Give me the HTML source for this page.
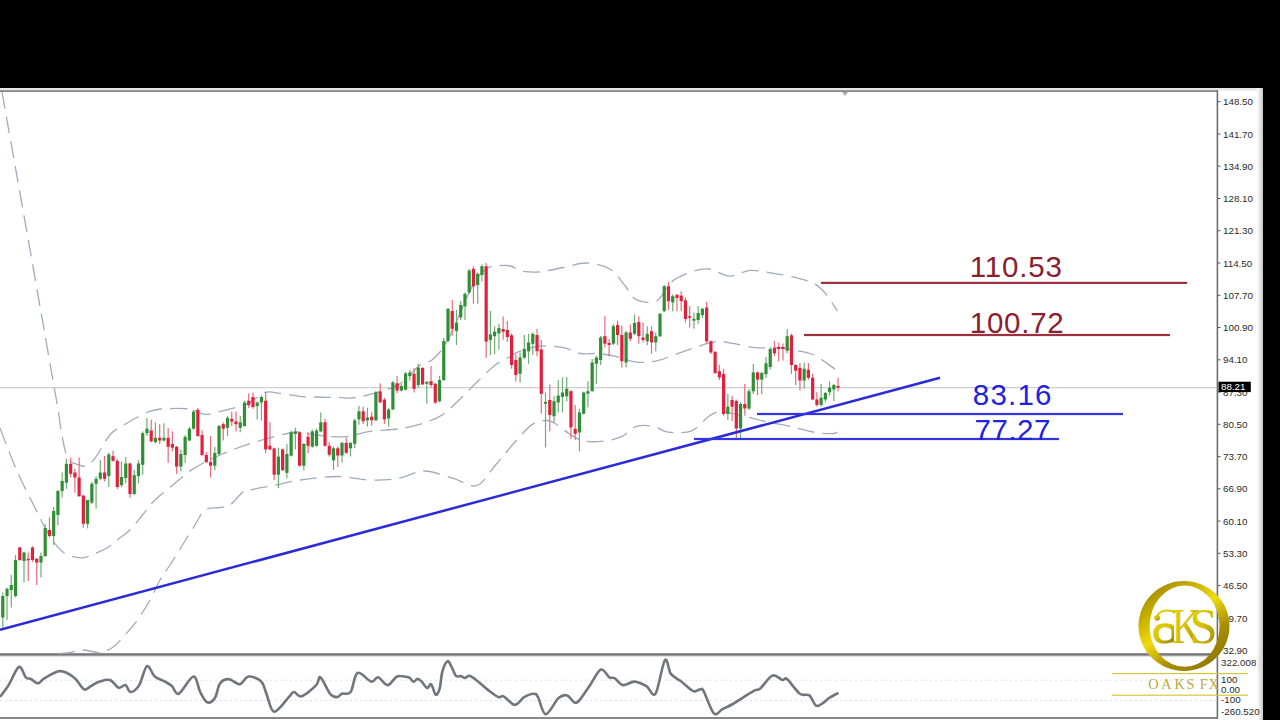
<!DOCTYPE html><html><head><meta charset="utf-8"><title>Chart</title><style>
html,body{margin:0;padding:0;background:#000;width:1280px;height:720px;overflow:hidden}
svg{display:block;position:absolute;left:0;top:0}
#wrap{position:absolute;left:0;top:0;width:1280px;height:720px}
text{font-family:"Liberation Sans",sans-serif}
</style></head><body><div id="wrap">
<svg width="1280" height="720" viewBox="0 0 1280 720">
<defs>
<linearGradient id="edge" x1="0" x2="1" y1="0" y2="0"><stop offset="0" stop-color="#fff"/><stop offset="1" stop-color="#c8c8c8"/></linearGradient>
<linearGradient id="gold" x1="0.15" y1="0" x2="0.85" y2="1"><stop offset="0" stop-color="#9a8200"/><stop offset="0.3" stop-color="#d4bc00"/><stop offset="0.45" stop-color="#efdc10"/><stop offset="0.7" stop-color="#a88e00"/><stop offset="1" stop-color="#8a7400"/></linearGradient>
<linearGradient id="goldL" x1="0" y1="0" x2="1" y2="0"><stop offset="0" stop-color="#c8b000"/><stop offset="0.5" stop-color="#e8d400" stop-opacity="0"/></linearGradient>
<linearGradient id="gold2" x1="0" y1="0" x2="1" y2="1"><stop offset="0" stop-color="#e6d200"/><stop offset="0.45" stop-color="#d8c400"/><stop offset="1" stop-color="#8e8010"/></linearGradient>
</defs>
<rect x="0" y="88" width="1263" height="632" fill="#ffffff"/>
<rect x="0" y="88" width="1263" height="2.5" fill="#e6e6e6"/>
<rect x="1257" y="88" width="6" height="632" fill="url(#edge)"/>
<rect x="0" y="90.3" width="1218" height="1.6" fill="#7a7a7a"/>
<rect x="1216.6" y="90.3" width="1.6" height="628" fill="#6e6e6e"/>
<rect x="0" y="653.2" width="1218" height="2.6" fill="#767676"/>
<rect x="0" y="655.8" width="1218" height="1" fill="#d8d8d8"/>
<rect x="0" y="717.2" width="1218" height="1.6" fill="#6a6a6a"/>
<rect x="1218" y="101.2" width="2.5" height="1" fill="#555"/>
<text x="1223" y="105.3" font-size="9.8" fill="#2a2a2a">148.50</text>
<rect x="1218" y="133.5" width="2.5" height="1" fill="#555"/>
<text x="1223" y="137.6" font-size="9.8" fill="#2a2a2a">141.70</text>
<rect x="1218" y="165.7" width="2.5" height="1" fill="#555"/>
<text x="1223" y="169.8" font-size="9.8" fill="#2a2a2a">134.90</text>
<rect x="1218" y="198.0" width="2.5" height="1" fill="#555"/>
<text x="1223" y="202.1" font-size="9.8" fill="#2a2a2a">128.10</text>
<rect x="1218" y="230.2" width="2.5" height="1" fill="#555"/>
<text x="1223" y="234.3" font-size="9.8" fill="#2a2a2a">121.30</text>
<rect x="1218" y="262.5" width="2.5" height="1" fill="#555"/>
<text x="1223" y="266.6" font-size="9.8" fill="#2a2a2a">114.50</text>
<rect x="1218" y="294.8" width="2.5" height="1" fill="#555"/>
<text x="1223" y="298.9" font-size="9.8" fill="#2a2a2a">107.70</text>
<rect x="1218" y="327.0" width="2.5" height="1" fill="#555"/>
<text x="1223" y="331.1" font-size="9.8" fill="#2a2a2a">100.90</text>
<rect x="1218" y="359.3" width="2.5" height="1" fill="#555"/>
<text x="1223" y="363.4" font-size="9.8" fill="#2a2a2a">94.10</text>
<rect x="1218" y="391.5" width="2.5" height="1" fill="#555"/>
<text x="1223" y="395.6" font-size="9.8" fill="#2a2a2a">87.30</text>
<rect x="1218" y="423.8" width="2.5" height="1" fill="#555"/>
<text x="1223" y="427.9" font-size="9.8" fill="#2a2a2a">80.50</text>
<rect x="1218" y="456.1" width="2.5" height="1" fill="#555"/>
<text x="1223" y="460.2" font-size="9.8" fill="#2a2a2a">73.70</text>
<rect x="1218" y="488.3" width="2.5" height="1" fill="#555"/>
<text x="1223" y="492.4" font-size="9.8" fill="#2a2a2a">66.90</text>
<rect x="1218" y="520.6" width="2.5" height="1" fill="#555"/>
<text x="1223" y="524.7" font-size="9.8" fill="#2a2a2a">60.10</text>
<rect x="1218" y="552.8" width="2.5" height="1" fill="#555"/>
<text x="1223" y="556.9" font-size="9.8" fill="#2a2a2a">53.30</text>
<rect x="1218" y="585.1" width="2.5" height="1" fill="#555"/>
<text x="1223" y="589.2" font-size="9.8" fill="#2a2a2a">46.50</text>
<rect x="1218" y="617.4" width="2.5" height="1" fill="#555"/>
<text x="1223" y="621.5" font-size="9.8" fill="#2a2a2a">39.70</text>
<rect x="1218" y="649.6" width="2.5" height="1" fill="#555"/>
<text x="1223" y="653.7" font-size="9.8" fill="#2a2a2a">32.90</text>
<rect x="0" y="387.2" width="1217" height="1" fill="#c4c4c4"/>
<rect x="1218.5" y="381.7" width="32.3" height="10.4" fill="#000"/>
<text x="1221" y="390.3" font-size="9.8" fill="#fff">88.21</text>
<text x="1221" y="665.8" font-size="9.8" fill="#2a2a2a">322.0088</text>
<text x="1221" y="683.0" font-size="9.8" fill="#2a2a2a">100</text>
<text x="1221" y="693.0" font-size="9.8" fill="#2a2a2a">0.00</text>
<text x="1221" y="703.0" font-size="9.8" fill="#2a2a2a">-100</text>
<text x="1221" y="714.7" font-size="9.8" fill="#2a2a2a">-260.520</text>
<rect x="1256" y="655" width="7" height="15" fill="url(#edge)"/>
<path d="M0,680.2 H1217" stroke="#dde0e6" stroke-width="1" stroke-dasharray="2,3"/>
<path d="M0,700.5 H1217" stroke="#dde0e6" stroke-width="1" stroke-dasharray="2,3"/>
<path d="M2.0,92.0 C6.5,117.3 20.5,196.0 29.0,244.0 C37.5,292.0 48.1,352.7 52.9,380.0 C57.7,407.3 56.3,398.5 57.8,407.8 C59.3,417.1 60.4,427.3 62.0,435.6 C63.6,443.9 65.4,453.2 67.5,457.8 C69.6,462.4 71.4,461.9 74.4,463.3 C77.4,464.7 82.1,467.0 85.6,466.1 C89.1,465.2 91.1,463.1 95.3,457.8 C99.5,452.5 105.3,440.0 110.6,434.2 C115.9,428.4 121.0,426.7 127.2,423.0 C133.4,419.3 142.4,414.3 148.0,412.0 C153.6,409.7 154.0,409.5 161.0,409.0 C168.0,408.5 182.8,408.1 190.0,409.0 C197.2,409.9 199.0,414.1 204.4,414.4 C209.8,414.7 215.3,412.6 222.5,410.8 C229.7,409.0 240.6,406.7 247.7,403.6 C254.8,400.6 259.6,394.2 265.0,392.5 C270.4,390.8 273.9,392.7 280.0,393.4 C286.1,394.1 295.6,396.0 301.6,396.6 C307.6,397.2 309.3,396.8 316.0,397.0 C322.7,397.2 336.0,397.4 342.0,397.6 C348.0,397.8 346.9,398.7 352.2,398.0 C357.5,397.3 366.1,395.7 373.9,393.4 C381.7,391.1 391.4,389.0 399.0,384.4 C406.6,379.8 414.1,369.7 419.6,365.6 C425.1,361.5 427.8,363.4 432.0,360.0 C436.2,356.6 440.7,352.0 445.0,345.0 C449.3,338.0 453.9,326.9 458.0,318.0 C462.1,309.1 466.3,298.5 469.6,291.7 C472.9,284.9 474.9,281.0 478.0,277.0 C481.1,273.0 484.8,269.6 488.3,267.7 C491.8,265.8 495.0,265.9 498.8,265.6 C502.5,265.3 507.5,265.1 511.0,266.0 C514.5,266.9 515.2,269.8 520.0,270.8 C524.8,271.8 532.8,272.4 540.0,271.8 C547.2,271.2 555.5,269.0 563.3,267.5 C571.1,266.0 578.8,262.8 586.6,263.0 C594.4,263.2 603.7,265.3 610.0,269.0 C616.3,272.7 620.1,279.9 624.5,285.0 C628.9,290.1 630.9,296.9 636.2,299.6 C641.6,302.3 650.8,303.9 656.6,301.0 C662.4,298.1 665.4,286.9 671.2,282.0 C677.0,277.1 685.3,274.1 691.6,271.9 C697.9,269.7 702.7,268.3 709.0,269.0 C715.3,269.7 722.7,276.0 729.5,276.2 C736.3,276.4 742.7,270.9 750.0,270.4 C757.3,269.9 765.4,272.1 773.2,273.3 C781.0,274.5 789.8,276.0 796.6,277.7 C803.4,279.4 809.1,280.8 814.0,283.5 C818.9,286.2 821.8,289.1 825.7,293.7 C829.6,298.3 835.5,308.3 837.4,311.2" fill="none" stroke="#a0acbc" stroke-width="1.3" stroke-dasharray="17,8"/>
<path d="M0.0,428.0 C2.2,433.7 9.2,452.4 13.3,462.2 C17.4,472.0 20.7,478.9 24.4,486.7 C28.1,494.5 32.3,502.2 35.6,508.9 C38.9,515.6 41.1,520.8 44.4,526.7 C47.7,532.6 51.9,539.8 55.6,544.4 C59.3,549.0 62.3,552.2 66.7,554.4 C71.1,556.6 77.4,558.0 82.2,557.8 C87.0,557.6 91.1,555.1 95.6,553.3 C100.0,551.4 104.8,549.3 108.9,546.7 C113.0,544.1 116.5,540.6 120.0,537.8 C123.5,535.0 126.2,533.8 130.0,530.0 C133.8,526.2 138.3,520.0 142.5,515.0 C146.7,510.0 150.4,504.6 155.0,500.0 C159.6,495.4 163.6,492.7 170.0,487.5 C176.4,482.3 184.8,474.2 193.6,468.6 C202.3,463.0 212.9,458.2 222.5,454.0 C232.1,449.8 241.1,446.6 251.3,443.3 C261.5,440.0 275.7,436.2 283.8,434.3 C291.9,432.4 294.6,431.9 300.0,432.0 C305.4,432.1 308.5,434.2 316.0,435.0 C323.5,435.8 336.0,437.4 345.0,436.8 C354.0,436.2 359.8,432.8 370.0,431.3 C380.2,429.8 394.9,430.1 406.4,427.7 C417.9,425.3 430.0,421.5 438.8,416.9 C447.6,412.3 452.5,406.0 459.0,400.0 C465.5,394.0 471.7,387.0 478.0,381.0 C484.3,375.0 491.4,367.9 496.6,364.0 C501.8,360.1 505.4,359.3 509.0,357.3 C512.6,355.3 513.1,353.8 518.3,351.9 C523.5,350.0 532.5,346.9 540.0,346.2 C547.5,345.5 556.5,346.5 563.3,347.7 C570.1,348.9 575.0,352.5 580.8,353.5 C586.6,354.5 592.5,353.0 598.3,353.5 C604.1,354.0 609.5,354.9 615.8,356.4 C622.1,357.8 629.4,361.5 636.2,362.2 C643.0,362.9 650.3,362.0 656.6,360.8 C662.9,359.6 667.8,357.2 674.1,355.0 C680.4,352.8 687.7,349.9 694.5,347.7 C701.3,345.5 708.7,342.5 715.0,341.8 C721.3,341.1 725.6,342.3 732.4,343.3 C739.2,344.3 747.9,347.0 755.7,347.7 C763.5,348.4 772.2,347.2 779.0,347.7 C785.8,348.2 790.8,349.4 796.6,350.6 C802.4,351.8 808.2,352.3 814.0,355.0 C819.8,357.7 827.6,363.9 831.5,366.6 C835.4,369.3 836.4,370.3 837.4,371.0" fill="none" stroke="#a0acbc" stroke-width="1.3" stroke-dasharray="17,8"/>
<path d="M58.0,653.5 C60.0,653.3 65.9,653.1 70.0,652.5 C74.1,651.9 77.5,650.0 82.5,650.0 C87.5,650.0 95.0,652.9 100.0,652.5 C105.0,652.1 108.3,650.4 112.5,647.5 C116.7,644.6 120.8,639.6 125.0,635.0 C129.2,630.4 133.3,625.8 137.5,620.0 C141.7,614.2 146.2,606.7 150.0,600.0 C153.8,593.3 156.7,585.8 160.0,580.0 C163.3,574.2 166.2,570.8 170.0,565.0 C173.8,559.2 178.3,551.7 182.5,545.0 C186.7,538.3 191.2,530.8 195.0,525.0 C198.8,519.2 200.8,512.9 205.0,510.0 C209.2,507.1 215.8,508.3 220.0,507.5 C224.2,506.7 226.2,507.5 230.0,505.0 C233.8,502.5 239.2,495.0 242.5,492.5 C245.8,490.0 244.3,491.3 250.0,490.0 C255.7,488.7 268.3,486.5 276.6,484.8 C284.9,483.1 289.8,481.4 300.0,480.0 C310.2,478.6 326.1,476.5 337.8,476.5 C349.5,476.5 359.8,479.7 370.0,480.0 C380.2,480.3 389.9,479.8 399.0,478.3 C408.1,476.8 415.3,471.0 424.4,471.0 C433.4,471.0 444.6,475.9 453.3,478.3 C462.0,480.7 469.5,487.9 476.7,485.5 C483.9,483.1 490.3,471.0 496.6,463.8 C502.9,456.6 508.7,448.8 514.7,442.2 C520.7,435.6 527.3,427.7 532.7,424.1 C538.1,420.5 543.0,420.4 547.1,420.5 C551.2,420.6 553.8,422.8 557.5,425.0 C561.2,427.2 564.8,431.0 569.2,433.7 C573.6,436.4 577.9,439.8 583.7,441.0 C589.5,442.2 597.8,441.7 604.1,441.0 C610.4,440.3 616.2,439.0 621.6,436.6 C627.0,434.2 630.9,428.1 636.2,426.4 C641.6,424.7 648.4,425.4 653.7,426.4 C659.1,427.4 662.0,431.5 668.3,432.2 C674.6,432.9 684.8,433.5 691.6,430.8 C698.4,428.1 704.1,419.4 709.0,416.2 C713.9,413.0 714.9,411.8 720.8,411.8 C726.6,411.8 736.3,414.5 744.1,416.2 C751.9,417.9 759.6,420.3 767.4,422.0 C775.2,423.7 782.9,424.7 790.7,426.4 C798.5,428.1 807.2,431.0 814.0,432.2 C820.8,433.4 827.6,433.7 831.5,433.7 C835.4,433.7 836.4,432.4 837.4,432.2" fill="none" stroke="#a0acbc" stroke-width="1.3" stroke-dasharray="17,8"/>
<rect x="2.20" y="592.5" width="1.2" height="35.0" fill="#6fae72"/>
<rect x="1.20" y="596.0" width="3.2" height="21.5" fill="#2f8f34"/>
<rect x="6.44" y="587.5" width="1.2" height="32.5" fill="#6fae72"/>
<rect x="5.44" y="588.8" width="3.2" height="7.2" fill="#2f8f34"/>
<rect x="10.68" y="575.0" width="1.2" height="32.5" fill="#6fae72"/>
<rect x="9.68" y="585.0" width="3.2" height="5.0" fill="#2f8f34"/>
<rect x="14.92" y="555.0" width="1.2" height="42.5" fill="#6fae72"/>
<rect x="13.92" y="560.0" width="3.2" height="36.0" fill="#2f8f34"/>
<rect x="19.16" y="546.5" width="1.2" height="14.5" fill="#ea6a7c"/>
<rect x="18.16" y="547.5" width="3.2" height="12.5" fill="#e0203c"/>
<rect x="23.40" y="552.0" width="1.2" height="30.5" fill="#6fae72"/>
<rect x="22.40" y="552.5" width="3.2" height="8.5" fill="#2f8f34"/>
<rect x="27.64" y="552.5" width="1.2" height="28.5" fill="#ea6a7c"/>
<rect x="26.64" y="558.8" width="3.2" height="1.5" fill="#e0203c"/>
<rect x="31.88" y="546.0" width="1.2" height="16.0" fill="#ea6a7c"/>
<rect x="30.88" y="547.5" width="3.2" height="12.5" fill="#e0203c"/>
<rect x="36.12" y="558.0" width="1.2" height="27.0" fill="#ea6a7c"/>
<rect x="35.12" y="558.8" width="3.2" height="3.8" fill="#e0203c"/>
<rect x="40.36" y="552.5" width="1.2" height="25.0" fill="#6fae72"/>
<rect x="39.36" y="556.0" width="3.2" height="6.5" fill="#2f8f34"/>
<rect x="44.60" y="524.0" width="1.2" height="33.0" fill="#6fae72"/>
<rect x="43.60" y="528.0" width="3.2" height="28.0" fill="#2f8f34"/>
<rect x="48.84" y="517.5" width="1.2" height="20.0" fill="#ea6a7c"/>
<rect x="47.84" y="530.0" width="3.2" height="6.0" fill="#e0203c"/>
<rect x="53.08" y="507.0" width="1.2" height="38.0" fill="#6fae72"/>
<rect x="52.08" y="511.0" width="3.2" height="25.0" fill="#2f8f34"/>
<rect x="57.32" y="490.0" width="1.2" height="35.0" fill="#6fae72"/>
<rect x="56.32" y="491.0" width="3.2" height="24.0" fill="#2f8f34"/>
<rect x="61.56" y="472.5" width="1.2" height="25.0" fill="#6fae72"/>
<rect x="60.56" y="481.0" width="3.2" height="10.0" fill="#2f8f34"/>
<rect x="65.80" y="458.8" width="1.2" height="30.0" fill="#6fae72"/>
<rect x="64.80" y="463.8" width="3.2" height="18.8" fill="#2f8f34"/>
<rect x="70.04" y="457.5" width="1.2" height="20.0" fill="#ea6a7c"/>
<rect x="69.04" y="463.8" width="3.2" height="10.0" fill="#e0203c"/>
<rect x="74.28" y="468.8" width="1.2" height="23.8" fill="#ea6a7c"/>
<rect x="73.28" y="472.5" width="3.2" height="5.0" fill="#e0203c"/>
<rect x="78.52" y="457.5" width="1.2" height="39.0" fill="#ea6a7c"/>
<rect x="77.52" y="477.5" width="3.2" height="18.8" fill="#e0203c"/>
<rect x="82.76" y="495.0" width="1.2" height="32.5" fill="#ea6a7c"/>
<rect x="81.76" y="495.6" width="3.2" height="28.1" fill="#e0203c"/>
<rect x="87.00" y="500.0" width="1.2" height="28.4" fill="#6fae72"/>
<rect x="86.00" y="500.0" width="3.2" height="23.8" fill="#2f8f34"/>
<rect x="91.24" y="482.0" width="1.2" height="22.0" fill="#6fae72"/>
<rect x="90.24" y="483.8" width="3.2" height="18.8" fill="#2f8f34"/>
<rect x="95.48" y="476.2" width="1.2" height="32.5" fill="#6fae72"/>
<rect x="94.48" y="478.8" width="3.2" height="5.0" fill="#2f8f34"/>
<rect x="99.72" y="460.0" width="1.2" height="20.0" fill="#6fae72"/>
<rect x="98.72" y="472.5" width="3.2" height="6.2" fill="#2f8f34"/>
<rect x="103.96" y="456.0" width="1.2" height="25.5" fill="#ea6a7c"/>
<rect x="102.96" y="472.5" width="3.2" height="6.3" fill="#e0203c"/>
<rect x="108.20" y="452.6" width="1.2" height="34.4" fill="#6fae72"/>
<rect x="107.20" y="454.4" width="3.2" height="21.6" fill="#2f8f34"/>
<rect x="112.44" y="450.8" width="1.2" height="10.9" fill="#ea6a7c"/>
<rect x="111.44" y="456.2" width="3.2" height="4.6" fill="#e0203c"/>
<rect x="116.68" y="459.0" width="1.2" height="30.0" fill="#ea6a7c"/>
<rect x="115.68" y="460.8" width="3.2" height="26.2" fill="#e0203c"/>
<rect x="120.92" y="461.7" width="1.2" height="25.3" fill="#6fae72"/>
<rect x="119.92" y="477.0" width="3.2" height="8.1" fill="#2f8f34"/>
<rect x="125.16" y="457.0" width="1.2" height="26.3" fill="#6fae72"/>
<rect x="124.16" y="463.5" width="3.2" height="14.5" fill="#2f8f34"/>
<rect x="129.40" y="462.6" width="1.2" height="35.2" fill="#ea6a7c"/>
<rect x="128.40" y="463.5" width="3.2" height="30.5" fill="#e0203c"/>
<rect x="133.64" y="470.0" width="1.2" height="25.0" fill="#6fae72"/>
<rect x="132.64" y="475.2" width="3.2" height="18.8" fill="#2f8f34"/>
<rect x="137.88" y="460.0" width="1.2" height="23.3" fill="#6fae72"/>
<rect x="136.88" y="463.5" width="3.2" height="12.5" fill="#2f8f34"/>
<rect x="142.12" y="431.4" width="1.2" height="43.4" fill="#6fae72"/>
<rect x="141.12" y="433.2" width="3.2" height="31.6" fill="#2f8f34"/>
<rect x="146.36" y="418.0" width="1.2" height="18.0" fill="#6fae72"/>
<rect x="145.36" y="428.7" width="3.2" height="4.5" fill="#2f8f34"/>
<rect x="150.60" y="419.7" width="1.2" height="22.6" fill="#ea6a7c"/>
<rect x="149.60" y="430.5" width="3.2" height="10.9" fill="#e0203c"/>
<rect x="154.84" y="422.4" width="1.2" height="20.8" fill="#6fae72"/>
<rect x="153.84" y="437.8" width="3.2" height="4.5" fill="#2f8f34"/>
<rect x="159.08" y="424.2" width="1.2" height="19.8" fill="#ea6a7c"/>
<rect x="158.08" y="437.8" width="3.2" height="2.7" fill="#e0203c"/>
<rect x="163.32" y="423.3" width="1.2" height="18.1" fill="#6fae72"/>
<rect x="162.32" y="437.8" width="3.2" height="2.7" fill="#2f8f34"/>
<rect x="167.56" y="427.8" width="1.2" height="35.2" fill="#ea6a7c"/>
<rect x="166.56" y="437.8" width="3.2" height="9.0" fill="#e0203c"/>
<rect x="171.80" y="431.4" width="1.2" height="19.9" fill="#ea6a7c"/>
<rect x="170.80" y="444.0" width="3.2" height="3.7" fill="#e0203c"/>
<rect x="176.04" y="446.0" width="1.2" height="27.9" fill="#ea6a7c"/>
<rect x="175.04" y="446.8" width="3.2" height="19.8" fill="#e0203c"/>
<rect x="180.28" y="449.5" width="1.2" height="21.7" fill="#6fae72"/>
<rect x="179.28" y="454.0" width="3.2" height="12.6" fill="#2f8f34"/>
<rect x="184.52" y="435.0" width="1.2" height="28.0" fill="#6fae72"/>
<rect x="183.52" y="436.9" width="3.2" height="18.1" fill="#2f8f34"/>
<rect x="188.76" y="427.0" width="1.2" height="14.0" fill="#6fae72"/>
<rect x="187.76" y="428.7" width="3.2" height="11.8" fill="#2f8f34"/>
<rect x="193.00" y="409.8" width="1.2" height="19.8" fill="#6fae72"/>
<rect x="192.00" y="411.6" width="3.2" height="17.1" fill="#2f8f34"/>
<rect x="197.24" y="408.0" width="1.2" height="28.9" fill="#ea6a7c"/>
<rect x="196.24" y="409.8" width="3.2" height="26.2" fill="#e0203c"/>
<rect x="201.48" y="430.5" width="1.2" height="25.3" fill="#ea6a7c"/>
<rect x="200.48" y="435.0" width="3.2" height="20.0" fill="#e0203c"/>
<rect x="205.72" y="452.0" width="1.2" height="11.0" fill="#ea6a7c"/>
<rect x="204.72" y="455.0" width="3.2" height="7.1" fill="#e0203c"/>
<rect x="209.96" y="436.0" width="1.2" height="41.5" fill="#ea6a7c"/>
<rect x="208.96" y="462.1" width="3.2" height="3.6" fill="#e0203c"/>
<rect x="214.20" y="446.8" width="1.2" height="23.5" fill="#6fae72"/>
<rect x="213.20" y="453.0" width="3.2" height="12.7" fill="#2f8f34"/>
<rect x="218.44" y="425.0" width="1.2" height="31.0" fill="#6fae72"/>
<rect x="217.44" y="426.0" width="3.2" height="28.0" fill="#2f8f34"/>
<rect x="222.68" y="422.4" width="1.2" height="18.1" fill="#ea6a7c"/>
<rect x="221.68" y="424.2" width="3.2" height="4.5" fill="#e0203c"/>
<rect x="226.92" y="416.0" width="1.2" height="20.0" fill="#6fae72"/>
<rect x="225.92" y="417.9" width="3.2" height="9.9" fill="#2f8f34"/>
<rect x="231.16" y="411.6" width="1.2" height="14.4" fill="#ea6a7c"/>
<rect x="230.16" y="418.8" width="3.2" height="2.7" fill="#e0203c"/>
<rect x="235.40" y="411.5" width="1.2" height="19.9" fill="#ea6a7c"/>
<rect x="234.40" y="421.4" width="3.2" height="2.8" fill="#e0203c"/>
<rect x="239.64" y="416.0" width="1.2" height="16.3" fill="#6fae72"/>
<rect x="238.64" y="422.3" width="3.2" height="5.5" fill="#2f8f34"/>
<rect x="243.88" y="400.7" width="1.2" height="26.2" fill="#6fae72"/>
<rect x="242.88" y="402.5" width="3.2" height="23.5" fill="#2f8f34"/>
<rect x="248.12" y="393.5" width="1.2" height="14.4" fill="#ea6a7c"/>
<rect x="247.12" y="400.7" width="3.2" height="4.5" fill="#e0203c"/>
<rect x="252.36" y="392.6" width="1.2" height="16.2" fill="#ea6a7c"/>
<rect x="251.36" y="397.0" width="3.2" height="10.0" fill="#e0203c"/>
<rect x="256.60" y="401.6" width="1.2" height="18.0" fill="#6fae72"/>
<rect x="255.60" y="402.5" width="3.2" height="3.6" fill="#2f8f34"/>
<rect x="260.84" y="395.3" width="1.2" height="25.2" fill="#6fae72"/>
<rect x="259.84" y="397.0" width="3.2" height="5.5" fill="#2f8f34"/>
<rect x="265.08" y="391.7" width="1.2" height="61.3" fill="#ea6a7c"/>
<rect x="264.08" y="400.7" width="3.2" height="48.7" fill="#e0203c"/>
<rect x="269.32" y="422.3" width="1.2" height="28.0" fill="#ea6a7c"/>
<rect x="268.32" y="445.8" width="3.2" height="3.6" fill="#e0203c"/>
<rect x="273.56" y="447.6" width="1.2" height="32.5" fill="#ea6a7c"/>
<rect x="272.56" y="448.5" width="3.2" height="26.2" fill="#e0203c"/>
<rect x="277.80" y="447.6" width="1.2" height="40.6" fill="#6fae72"/>
<rect x="276.80" y="456.6" width="3.2" height="18.1" fill="#2f8f34"/>
<rect x="282.04" y="448.5" width="1.2" height="22.5" fill="#ea6a7c"/>
<rect x="281.04" y="449.4" width="3.2" height="20.8" fill="#e0203c"/>
<rect x="286.28" y="444.0" width="1.2" height="34.3" fill="#6fae72"/>
<rect x="285.28" y="454.0" width="3.2" height="18.9" fill="#2f8f34"/>
<rect x="290.52" y="430.5" width="1.2" height="26.1" fill="#6fae72"/>
<rect x="289.52" y="432.3" width="3.2" height="23.4" fill="#2f8f34"/>
<rect x="294.76" y="427.8" width="1.2" height="21.6" fill="#6fae72"/>
<rect x="293.76" y="431.4" width="3.2" height="2.6" fill="#2f8f34"/>
<rect x="299.00" y="431.4" width="1.2" height="35.2" fill="#ea6a7c"/>
<rect x="298.00" y="432.3" width="3.2" height="33.4" fill="#e0203c"/>
<rect x="303.24" y="443.0" width="1.2" height="27.2" fill="#6fae72"/>
<rect x="302.24" y="444.0" width="3.2" height="21.7" fill="#2f8f34"/>
<rect x="307.48" y="432.3" width="1.2" height="20.7" fill="#ea6a7c"/>
<rect x="306.48" y="436.8" width="3.2" height="9.0" fill="#e0203c"/>
<rect x="311.72" y="429.6" width="1.2" height="18.0" fill="#6fae72"/>
<rect x="310.72" y="431.4" width="3.2" height="15.3" fill="#2f8f34"/>
<rect x="315.96" y="428.7" width="1.2" height="18.0" fill="#6fae72"/>
<rect x="314.96" y="430.5" width="3.2" height="15.3" fill="#2f8f34"/>
<rect x="320.20" y="412.4" width="1.2" height="19.9" fill="#6fae72"/>
<rect x="319.20" y="422.3" width="3.2" height="9.1" fill="#2f8f34"/>
<rect x="324.44" y="418.7" width="1.2" height="28.0" fill="#ea6a7c"/>
<rect x="323.44" y="422.3" width="3.2" height="23.5" fill="#e0203c"/>
<rect x="328.68" y="442.2" width="1.2" height="14.4" fill="#ea6a7c"/>
<rect x="327.68" y="445.8" width="3.2" height="9.0" fill="#e0203c"/>
<rect x="332.92" y="446.5" width="1.2" height="23.5" fill="#6fae72"/>
<rect x="331.92" y="448.3" width="3.2" height="12.0" fill="#2f8f34"/>
<rect x="337.16" y="446.5" width="1.2" height="20.5" fill="#ea6a7c"/>
<rect x="336.16" y="448.3" width="3.2" height="7.2" fill="#e0203c"/>
<rect x="341.40" y="442.0" width="1.2" height="20.7" fill="#6fae72"/>
<rect x="340.40" y="442.9" width="3.2" height="12.6" fill="#2f8f34"/>
<rect x="345.64" y="437.5" width="1.2" height="16.2" fill="#ea6a7c"/>
<rect x="344.64" y="442.9" width="3.2" height="9.9" fill="#e0203c"/>
<rect x="349.88" y="442.0" width="1.2" height="14.4" fill="#6fae72"/>
<rect x="348.88" y="442.9" width="3.2" height="5.4" fill="#2f8f34"/>
<rect x="354.12" y="418.5" width="1.2" height="29.8" fill="#6fae72"/>
<rect x="353.12" y="420.3" width="3.2" height="23.5" fill="#2f8f34"/>
<rect x="358.36" y="405.9" width="1.2" height="18.9" fill="#6fae72"/>
<rect x="357.36" y="411.3" width="3.2" height="8.1" fill="#2f8f34"/>
<rect x="362.60" y="406.8" width="1.2" height="17.2" fill="#ea6a7c"/>
<rect x="361.60" y="411.3" width="3.2" height="9.9" fill="#e0203c"/>
<rect x="366.84" y="407.7" width="1.2" height="18.9" fill="#6fae72"/>
<rect x="365.84" y="417.6" width="3.2" height="2.7" fill="#2f8f34"/>
<rect x="371.08" y="412.2" width="1.2" height="13.5" fill="#ea6a7c"/>
<rect x="370.08" y="416.7" width="3.2" height="3.6" fill="#e0203c"/>
<rect x="375.32" y="391.0" width="1.2" height="30.0" fill="#6fae72"/>
<rect x="374.32" y="392.3" width="3.2" height="28.0" fill="#2f8f34"/>
<rect x="379.56" y="383.3" width="1.2" height="19.9" fill="#ea6a7c"/>
<rect x="378.56" y="391.4" width="3.2" height="10.9" fill="#e0203c"/>
<rect x="383.80" y="397.8" width="1.2" height="26.2" fill="#ea6a7c"/>
<rect x="382.80" y="399.6" width="3.2" height="19.8" fill="#e0203c"/>
<rect x="388.04" y="407.7" width="1.2" height="18.9" fill="#6fae72"/>
<rect x="387.04" y="409.5" width="3.2" height="9.0" fill="#2f8f34"/>
<rect x="392.28" y="381.0" width="1.2" height="29.0" fill="#6fae72"/>
<rect x="391.28" y="382.4" width="3.2" height="27.1" fill="#2f8f34"/>
<rect x="396.52" y="376.0" width="1.2" height="17.2" fill="#ea6a7c"/>
<rect x="395.52" y="383.3" width="3.2" height="7.2" fill="#e0203c"/>
<rect x="400.76" y="384.0" width="1.2" height="7.5" fill="#6fae72"/>
<rect x="399.76" y="386.0" width="3.2" height="4.5" fill="#2f8f34"/>
<rect x="405.00" y="372.0" width="1.2" height="18.5" fill="#6fae72"/>
<rect x="404.00" y="373.4" width="3.2" height="16.2" fill="#2f8f34"/>
<rect x="409.24" y="369.8" width="1.2" height="10.8" fill="#6fae72"/>
<rect x="408.24" y="372.5" width="3.2" height="3.5" fill="#2f8f34"/>
<rect x="413.48" y="368.0" width="1.2" height="24.5" fill="#ea6a7c"/>
<rect x="412.48" y="373.8" width="3.2" height="15.0" fill="#e0203c"/>
<rect x="417.72" y="363.8" width="1.2" height="24.2" fill="#6fae72"/>
<rect x="416.72" y="367.5" width="3.2" height="17.5" fill="#2f8f34"/>
<rect x="421.96" y="367.0" width="1.2" height="18.0" fill="#ea6a7c"/>
<rect x="420.96" y="368.0" width="3.2" height="16.4" fill="#e0203c"/>
<rect x="426.20" y="381.0" width="1.2" height="22.8" fill="#6fae72"/>
<rect x="425.20" y="381.9" width="3.2" height="1.9" fill="#2f8f34"/>
<rect x="430.44" y="366.0" width="1.2" height="21.5" fill="#ea6a7c"/>
<rect x="429.44" y="381.2" width="3.2" height="3.8" fill="#e0203c"/>
<rect x="434.68" y="383.0" width="1.2" height="20.8" fill="#ea6a7c"/>
<rect x="433.68" y="383.8" width="3.2" height="18.8" fill="#e0203c"/>
<rect x="438.92" y="376.0" width="1.2" height="26.5" fill="#6fae72"/>
<rect x="437.92" y="380.0" width="3.2" height="21.2" fill="#2f8f34"/>
<rect x="443.16" y="338.0" width="1.2" height="43.0" fill="#6fae72"/>
<rect x="442.16" y="341.0" width="3.2" height="39.0" fill="#2f8f34"/>
<rect x="447.40" y="308.0" width="1.2" height="34.0" fill="#6fae72"/>
<rect x="446.40" y="308.8" width="3.2" height="32.2" fill="#2f8f34"/>
<rect x="451.64" y="300.0" width="1.2" height="36.0" fill="#ea6a7c"/>
<rect x="450.64" y="311.0" width="3.2" height="17.8" fill="#e0203c"/>
<rect x="455.88" y="310.0" width="1.2" height="35.0" fill="#6fae72"/>
<rect x="454.88" y="322.5" width="3.2" height="8.5" fill="#2f8f34"/>
<rect x="460.12" y="301.0" width="1.2" height="19.0" fill="#6fae72"/>
<rect x="459.12" y="305.0" width="3.2" height="12.5" fill="#2f8f34"/>
<rect x="464.36" y="292.5" width="1.2" height="27.5" fill="#6fae72"/>
<rect x="463.36" y="293.8" width="3.2" height="12.5" fill="#2f8f34"/>
<rect x="468.60" y="269.0" width="1.2" height="25.0" fill="#6fae72"/>
<rect x="467.60" y="270.6" width="3.2" height="21.9" fill="#2f8f34"/>
<rect x="472.84" y="266.2" width="1.2" height="37.5" fill="#ea6a7c"/>
<rect x="471.84" y="268.8" width="3.2" height="17.5" fill="#e0203c"/>
<rect x="477.08" y="272.5" width="1.2" height="31.2" fill="#6fae72"/>
<rect x="476.08" y="273.8" width="3.2" height="11.2" fill="#2f8f34"/>
<rect x="481.32" y="264.4" width="1.2" height="16.9" fill="#6fae72"/>
<rect x="480.32" y="266.2" width="3.2" height="8.8" fill="#2f8f34"/>
<rect x="485.56" y="263.0" width="1.2" height="94.9" fill="#ea6a7c"/>
<rect x="484.56" y="266.2" width="3.2" height="75.4" fill="#e0203c"/>
<rect x="489.80" y="311.0" width="1.2" height="44.2" fill="#6fae72"/>
<rect x="488.80" y="334.4" width="3.2" height="5.4" fill="#2f8f34"/>
<rect x="494.04" y="326.3" width="1.2" height="28.0" fill="#6fae72"/>
<rect x="493.04" y="331.7" width="3.2" height="4.5" fill="#2f8f34"/>
<rect x="498.28" y="323.6" width="1.2" height="26.2" fill="#6fae72"/>
<rect x="497.28" y="328.1" width="3.2" height="5.4" fill="#2f8f34"/>
<rect x="502.52" y="316.4" width="1.2" height="23.4" fill="#ea6a7c"/>
<rect x="501.52" y="329.0" width="3.2" height="2.7" fill="#e0203c"/>
<rect x="506.76" y="321.0" width="1.2" height="20.6" fill="#ea6a7c"/>
<rect x="505.76" y="330.0" width="3.2" height="7.0" fill="#e0203c"/>
<rect x="511.00" y="333.5" width="1.2" height="35.2" fill="#ea6a7c"/>
<rect x="510.00" y="335.3" width="3.2" height="29.7" fill="#e0203c"/>
<rect x="515.24" y="354.3" width="1.2" height="27.1" fill="#ea6a7c"/>
<rect x="514.24" y="360.0" width="3.2" height="15.0" fill="#e0203c"/>
<rect x="519.48" y="352.5" width="1.2" height="30.0" fill="#6fae72"/>
<rect x="518.48" y="357.5" width="3.2" height="16.2" fill="#2f8f34"/>
<rect x="523.72" y="335.0" width="1.2" height="23.8" fill="#6fae72"/>
<rect x="522.72" y="348.8" width="3.2" height="8.8" fill="#2f8f34"/>
<rect x="527.96" y="333.8" width="1.2" height="30.0" fill="#6fae72"/>
<rect x="526.96" y="342.5" width="3.2" height="8.8" fill="#2f8f34"/>
<rect x="532.20" y="332.5" width="1.2" height="22.5" fill="#6fae72"/>
<rect x="531.20" y="333.8" width="3.2" height="10.0" fill="#2f8f34"/>
<rect x="536.44" y="328.8" width="1.2" height="27.5" fill="#ea6a7c"/>
<rect x="535.44" y="335.0" width="3.2" height="16.2" fill="#e0203c"/>
<rect x="540.68" y="340.0" width="1.2" height="73.8" fill="#ea6a7c"/>
<rect x="539.68" y="349.4" width="3.2" height="44.4" fill="#e0203c"/>
<rect x="544.92" y="392.5" width="1.2" height="55.0" fill="#6fae72"/>
<rect x="543.92" y="401.9" width="3.2" height="1.9" fill="#2f8f34"/>
<rect x="549.16" y="384.4" width="1.2" height="46.9" fill="#ea6a7c"/>
<rect x="548.16" y="400.0" width="3.2" height="15.0" fill="#e0203c"/>
<rect x="553.40" y="396.2" width="1.2" height="26.2" fill="#6fae72"/>
<rect x="552.40" y="401.2" width="3.2" height="15.0" fill="#2f8f34"/>
<rect x="557.64" y="380.0" width="1.2" height="32.5" fill="#6fae72"/>
<rect x="556.64" y="395.6" width="3.2" height="6.9" fill="#2f8f34"/>
<rect x="561.88" y="377.5" width="1.2" height="35.0" fill="#6fae72"/>
<rect x="560.88" y="392.5" width="3.2" height="4.4" fill="#2f8f34"/>
<rect x="566.12" y="376.9" width="1.2" height="24.4" fill="#6fae72"/>
<rect x="565.12" y="388.8" width="3.2" height="7.5" fill="#2f8f34"/>
<rect x="570.36" y="390.0" width="1.2" height="48.8" fill="#ea6a7c"/>
<rect x="569.36" y="391.2" width="3.2" height="36.2" fill="#e0203c"/>
<rect x="574.60" y="405.0" width="1.2" height="35.0" fill="#ea6a7c"/>
<rect x="573.60" y="428.8" width="3.2" height="5.0" fill="#e0203c"/>
<rect x="578.84" y="408.8" width="1.2" height="42.5" fill="#6fae72"/>
<rect x="577.84" y="412.5" width="3.2" height="20.0" fill="#2f8f34"/>
<rect x="583.08" y="391.5" width="1.2" height="23.0" fill="#6fae72"/>
<rect x="582.08" y="392.5" width="3.2" height="21.2" fill="#2f8f34"/>
<rect x="587.32" y="381.2" width="1.2" height="26.2" fill="#6fae72"/>
<rect x="586.32" y="391.2" width="3.2" height="2.5" fill="#2f8f34"/>
<rect x="591.56" y="359.0" width="1.2" height="33.0" fill="#6fae72"/>
<rect x="590.56" y="362.5" width="3.2" height="28.5" fill="#2f8f34"/>
<rect x="595.80" y="356.0" width="1.2" height="27.8" fill="#6fae72"/>
<rect x="594.80" y="357.5" width="3.2" height="6.2" fill="#2f8f34"/>
<rect x="600.04" y="336.0" width="1.2" height="29.0" fill="#6fae72"/>
<rect x="599.04" y="337.5" width="3.2" height="22.5" fill="#2f8f34"/>
<rect x="604.28" y="316.2" width="1.2" height="31.2" fill="#ea6a7c"/>
<rect x="603.28" y="336.2" width="3.2" height="7.5" fill="#e0203c"/>
<rect x="608.52" y="338.8" width="1.2" height="17.5" fill="#ea6a7c"/>
<rect x="607.52" y="343.0" width="3.2" height="2.0" fill="#e0203c"/>
<rect x="612.76" y="324.4" width="1.2" height="20.6" fill="#6fae72"/>
<rect x="611.76" y="326.2" width="3.2" height="17.5" fill="#2f8f34"/>
<rect x="617.00" y="320.6" width="1.2" height="24.4" fill="#ea6a7c"/>
<rect x="616.00" y="325.0" width="3.2" height="10.0" fill="#e0203c"/>
<rect x="621.24" y="325.6" width="1.2" height="41.9" fill="#ea6a7c"/>
<rect x="620.24" y="335.0" width="3.2" height="26.2" fill="#e0203c"/>
<rect x="625.48" y="331.0" width="1.2" height="36.5" fill="#6fae72"/>
<rect x="624.48" y="332.5" width="3.2" height="30.0" fill="#2f8f34"/>
<rect x="629.72" y="324.4" width="1.2" height="16.9" fill="#ea6a7c"/>
<rect x="628.72" y="332.5" width="3.2" height="6.2" fill="#e0203c"/>
<rect x="633.96" y="314.4" width="1.2" height="20.6" fill="#6fae72"/>
<rect x="632.96" y="323.0" width="3.2" height="10.8" fill="#2f8f34"/>
<rect x="638.20" y="316.2" width="1.2" height="27.5" fill="#ea6a7c"/>
<rect x="637.20" y="322.0" width="3.2" height="14.2" fill="#e0203c"/>
<rect x="642.44" y="322.5" width="1.2" height="20.0" fill="#ea6a7c"/>
<rect x="641.44" y="337.5" width="3.2" height="2.5" fill="#e0203c"/>
<rect x="646.68" y="326.2" width="1.2" height="18.8" fill="#6fae72"/>
<rect x="645.68" y="333.8" width="3.2" height="7.5" fill="#2f8f34"/>
<rect x="650.92" y="326.2" width="1.2" height="27.5" fill="#ea6a7c"/>
<rect x="649.92" y="331.2" width="3.2" height="11.2" fill="#e0203c"/>
<rect x="655.16" y="332.5" width="1.2" height="18.8" fill="#6fae72"/>
<rect x="654.16" y="336.2" width="3.2" height="6.2" fill="#2f8f34"/>
<rect x="659.40" y="313.0" width="1.2" height="24.0" fill="#6fae72"/>
<rect x="658.40" y="313.8" width="3.2" height="22.5" fill="#2f8f34"/>
<rect x="663.64" y="285.0" width="1.2" height="27.0" fill="#6fae72"/>
<rect x="662.64" y="286.2" width="3.2" height="25.0" fill="#2f8f34"/>
<rect x="667.88" y="281.9" width="1.2" height="28.1" fill="#ea6a7c"/>
<rect x="666.88" y="286.2" width="3.2" height="15.0" fill="#e0203c"/>
<rect x="672.12" y="294.4" width="1.2" height="16.9" fill="#6fae72"/>
<rect x="671.12" y="296.2" width="3.2" height="6.2" fill="#2f8f34"/>
<rect x="676.36" y="293.8" width="1.2" height="17.5" fill="#ea6a7c"/>
<rect x="675.36" y="295.0" width="3.2" height="3.0" fill="#e0203c"/>
<rect x="680.60" y="291.2" width="1.2" height="20.0" fill="#ea6a7c"/>
<rect x="679.60" y="295.6" width="3.2" height="5.6" fill="#e0203c"/>
<rect x="684.84" y="297.5" width="1.2" height="25.0" fill="#ea6a7c"/>
<rect x="683.84" y="300.3" width="3.2" height="18.7" fill="#e0203c"/>
<rect x="689.08" y="306.2" width="1.2" height="21.2" fill="#ea6a7c"/>
<rect x="688.08" y="316.2" width="3.2" height="1.5" fill="#e0203c"/>
<rect x="693.32" y="312.5" width="1.2" height="16.2" fill="#6fae72"/>
<rect x="692.32" y="318.8" width="3.2" height="1.9" fill="#2f8f34"/>
<rect x="697.56" y="306.2" width="1.2" height="17.5" fill="#6fae72"/>
<rect x="696.56" y="313.0" width="3.2" height="7.0" fill="#2f8f34"/>
<rect x="701.80" y="308.0" width="1.2" height="10.0" fill="#6fae72"/>
<rect x="700.80" y="308.8" width="3.2" height="6.2" fill="#2f8f34"/>
<rect x="706.04" y="301.9" width="1.2" height="41.9" fill="#ea6a7c"/>
<rect x="705.04" y="307.5" width="3.2" height="33.8" fill="#e0203c"/>
<rect x="710.28" y="340.5" width="1.2" height="13.5" fill="#ea6a7c"/>
<rect x="709.28" y="341.2" width="3.2" height="11.2" fill="#e0203c"/>
<rect x="714.52" y="351.0" width="1.2" height="23.0" fill="#ea6a7c"/>
<rect x="713.52" y="351.9" width="3.2" height="21.2" fill="#e0203c"/>
<rect x="718.76" y="365.0" width="1.2" height="15.0" fill="#ea6a7c"/>
<rect x="717.76" y="371.2" width="3.2" height="6.2" fill="#e0203c"/>
<rect x="723.00" y="368.8" width="1.2" height="46.9" fill="#ea6a7c"/>
<rect x="722.00" y="374.0" width="3.2" height="40.0" fill="#e0203c"/>
<rect x="727.24" y="394.0" width="1.2" height="26.0" fill="#6fae72"/>
<rect x="726.24" y="406.7" width="3.2" height="7.3" fill="#2f8f34"/>
<rect x="731.48" y="395.8" width="1.2" height="25.2" fill="#ea6a7c"/>
<rect x="730.48" y="400.0" width="3.2" height="6.7" fill="#e0203c"/>
<rect x="735.72" y="399.5" width="1.2" height="39.5" fill="#ea6a7c"/>
<rect x="734.72" y="401.0" width="3.2" height="27.4" fill="#e0203c"/>
<rect x="739.96" y="402.0" width="1.2" height="36.3" fill="#6fae72"/>
<rect x="738.96" y="404.0" width="3.2" height="24.4" fill="#2f8f34"/>
<rect x="744.20" y="384.0" width="1.2" height="31.7" fill="#ea6a7c"/>
<rect x="743.20" y="404.0" width="3.2" height="4.5" fill="#e0203c"/>
<rect x="748.44" y="389.0" width="1.2" height="21.0" fill="#6fae72"/>
<rect x="747.44" y="391.3" width="3.2" height="17.2" fill="#2f8f34"/>
<rect x="752.68" y="364.0" width="1.2" height="30.0" fill="#6fae72"/>
<rect x="751.68" y="372.4" width="3.2" height="18.9" fill="#2f8f34"/>
<rect x="756.92" y="371.5" width="1.2" height="23.5" fill="#ea6a7c"/>
<rect x="755.92" y="372.4" width="3.2" height="7.2" fill="#e0203c"/>
<rect x="761.16" y="372.0" width="1.2" height="22.0" fill="#6fae72"/>
<rect x="760.16" y="373.0" width="3.2" height="6.6" fill="#2f8f34"/>
<rect x="765.40" y="357.0" width="1.2" height="21.0" fill="#6fae72"/>
<rect x="764.40" y="363.3" width="3.2" height="10.9" fill="#2f8f34"/>
<rect x="769.64" y="347.0" width="1.2" height="22.6" fill="#6fae72"/>
<rect x="768.64" y="348.9" width="3.2" height="18.1" fill="#2f8f34"/>
<rect x="773.88" y="340.8" width="1.2" height="15.2" fill="#ea6a7c"/>
<rect x="772.88" y="348.0" width="3.2" height="5.4" fill="#e0203c"/>
<rect x="778.12" y="342.6" width="1.2" height="18.9" fill="#ea6a7c"/>
<rect x="777.12" y="347.0" width="3.2" height="2.0" fill="#e0203c"/>
<rect x="782.36" y="343.5" width="1.2" height="17.1" fill="#ea6a7c"/>
<rect x="781.36" y="347.0" width="3.2" height="2.0" fill="#e0203c"/>
<rect x="786.60" y="329.0" width="1.2" height="24.4" fill="#6fae72"/>
<rect x="785.60" y="336.2" width="3.2" height="14.5" fill="#2f8f34"/>
<rect x="790.84" y="333.5" width="1.2" height="40.5" fill="#ea6a7c"/>
<rect x="789.84" y="335.3" width="3.2" height="29.7" fill="#e0203c"/>
<rect x="795.08" y="364.0" width="1.2" height="21.0" fill="#ea6a7c"/>
<rect x="794.08" y="365.0" width="3.2" height="5.6" fill="#e0203c"/>
<rect x="799.32" y="363.0" width="1.2" height="27.4" fill="#ea6a7c"/>
<rect x="798.32" y="367.9" width="3.2" height="12.6" fill="#e0203c"/>
<rect x="803.56" y="362.4" width="1.2" height="26.2" fill="#6fae72"/>
<rect x="802.56" y="368.8" width="3.2" height="11.7" fill="#2f8f34"/>
<rect x="807.80" y="363.0" width="1.2" height="16.6" fill="#ea6a7c"/>
<rect x="806.80" y="369.7" width="3.2" height="8.1" fill="#e0203c"/>
<rect x="812.04" y="374.0" width="1.2" height="26.0" fill="#ea6a7c"/>
<rect x="811.04" y="377.8" width="3.2" height="21.7" fill="#e0203c"/>
<rect x="816.28" y="392.2" width="1.2" height="14.5" fill="#ea6a7c"/>
<rect x="815.28" y="399.5" width="3.2" height="5.4" fill="#e0203c"/>
<rect x="820.52" y="384.0" width="1.2" height="22.7" fill="#6fae72"/>
<rect x="819.52" y="397.7" width="3.2" height="7.2" fill="#2f8f34"/>
<rect x="824.76" y="392.0" width="1.2" height="10.0" fill="#6fae72"/>
<rect x="823.76" y="393.0" width="3.2" height="6.5" fill="#2f8f34"/>
<rect x="829.00" y="381.4" width="1.2" height="14.4" fill="#6fae72"/>
<rect x="828.00" y="387.7" width="3.2" height="4.5" fill="#2f8f34"/>
<rect x="833.24" y="384.0" width="1.2" height="17.0" fill="#6fae72"/>
<rect x="832.24" y="385.0" width="3.2" height="4.5" fill="#2f8f34"/>
<rect x="837.48" y="377.8" width="1.2" height="13.5" fill="#ea6a7c"/>
<rect x="836.48" y="386.0" width="3.2" height="1.7" fill="#e0203c"/>
<path d="M842,92 L848,92 L845,96 Z" fill="#aaa"/>
<path d="M0,629.7 L940,377.7" stroke="#2a2ad8" stroke-width="2.5" fill="none"/>
<rect x="821" y="281.8" width="366" height="2.2" fill="#a03040"/>
<rect x="804" y="333.9" width="366" height="2.2" fill="#a03040"/>
<rect x="757" y="412.9" width="366" height="2.2" fill="#3434e0"/>
<rect x="694" y="437.9" width="365" height="2.2" fill="#3434e0"/>
<text x="969.8" y="277.3" font-size="29.5" letter-spacing="0.8" fill="#882030">110.53</text>
<text x="969.8" y="332.6" font-size="29.5" letter-spacing="0.75" fill="#882030">100.72</text>
<text x="972.8" y="405" font-size="29.5" letter-spacing="1.2" fill="#2222dd">83.16</text>
<text x="974.6" y="440.3" font-size="29.5" letter-spacing="0.5" fill="#2222dd">77.27</text>
<path d="M0.0,697.1 C1.4,695.1 5.4,690.1 8.6,685.1 C11.8,680.1 16.0,668.3 18.9,667.0 C21.8,665.7 23.8,675.3 25.8,677.3 C27.8,679.3 28.9,678.0 30.9,679.0 C32.9,680.0 35.5,683.5 37.8,683.4 C40.1,683.3 41.3,680.2 44.7,678.2 C48.1,676.2 54.7,672.2 58.4,671.3 C62.1,670.4 64.1,671.7 67.0,673.0 C69.9,674.3 72.7,676.3 75.6,679.0 C78.5,681.7 81.6,688.2 84.2,689.4 C86.8,690.6 88.5,687.3 91.1,686.0 C93.7,684.7 96.5,682.6 99.7,681.6 C102.9,680.6 106.8,679.0 110.0,680.0 C113.2,681.0 116.0,686.9 118.6,687.7 C121.2,688.6 123.5,684.4 125.5,685.1 C127.5,685.8 128.3,692.0 130.6,692.0 C132.9,692.0 136.5,689.4 139.2,685.1 C141.9,680.8 144.4,667.6 147.0,666.2 C149.6,664.8 151.7,673.9 154.7,676.5 C157.7,679.1 162.1,680.0 165.0,681.6 C167.9,683.2 169.6,684.0 171.9,686.0 C174.2,688.0 175.2,695.3 178.8,693.7 C182.4,692.1 189.8,676.8 193.4,676.5 C197.0,676.2 197.9,687.7 200.2,692.0 C202.5,696.3 204.6,701.3 207.1,702.3 C209.6,703.3 212.8,701.1 214.9,698.0 C217.1,694.9 217.7,686.5 220.0,683.4 C222.3,680.2 225.3,679.0 228.6,679.1 C231.9,679.2 236.5,684.6 239.8,684.2 C243.1,683.8 244.8,676.9 248.4,676.5 C252.0,676.1 258.3,678.7 261.3,681.6 C264.3,684.5 264.3,688.7 266.4,693.7 C268.5,698.7 270.4,711.1 274.1,711.7 C277.8,712.3 285.5,700.4 288.8,697.1 C292.1,693.8 291.8,692.1 293.9,692.0 C296.0,691.9 297.9,697.4 301.6,696.3 C305.3,695.1 313.2,688.3 316.3,685.1 C319.4,681.9 318.2,675.9 320.5,677.3 C322.8,678.7 327.3,690.4 330.0,693.7 C332.7,697.0 334.9,697.1 336.9,697.1 C338.9,697.1 339.7,694.6 342.0,693.7 C344.3,692.9 348.0,695.5 350.6,692.0 C353.2,688.5 354.1,674.7 357.5,673.0 C360.9,671.3 367.9,680.9 371.3,681.6 C374.7,682.3 375.4,676.7 378.1,677.3 C380.8,677.9 384.5,685.2 387.6,685.1 C390.8,685.0 393.9,677.9 397.0,676.5 C400.1,675.1 404.2,676.5 406.3,676.7 C408.4,677.0 408.7,677.2 409.9,678.0 C411.1,678.8 412.2,681.5 413.5,681.6 C414.8,681.8 416.2,678.9 417.6,678.9 C419.0,678.9 420.1,680.1 421.7,681.6 C423.3,683.1 425.5,687.5 427.1,688.0 C428.7,688.5 429.8,683.2 431.2,684.3 C432.6,685.4 434.3,694.0 435.7,694.7 C437.1,695.4 438.6,692.3 439.7,688.4 C440.8,684.5 441.1,675.8 442.4,671.3 C443.7,666.8 445.9,662.1 447.4,661.3 C448.9,660.5 450.1,664.3 451.5,666.7 C452.9,669.1 454.4,674.2 456.0,675.8 C457.6,677.4 459.9,675.8 461.4,676.2 C462.9,676.6 463.6,678.1 465.0,678.0 C466.4,677.9 467.4,675.3 469.5,675.8 C471.6,676.3 474.7,678.9 477.7,681.2 C480.7,683.5 483.9,686.8 487.3,689.4 C490.8,692.0 495.7,696.0 498.4,697.1 C501.1,698.2 500.9,695.0 503.6,696.3 C506.3,697.6 511.4,704.7 514.8,704.8 C518.2,704.9 521.1,699.0 524.2,697.1 C527.4,695.2 531.4,693.7 533.7,693.7 C536.0,693.7 536.0,693.7 538.0,697.1 C540.0,700.5 542.3,714.1 545.7,714.3 C549.1,714.4 555.0,701.1 558.6,698.0 C562.2,694.9 564.6,694.7 567.2,695.4 C569.8,696.1 572.1,701.4 574.1,702.3 C576.1,703.1 576.6,703.2 579.2,700.5 C581.8,697.8 585.9,691.1 589.5,686.0 C593.1,680.9 597.4,671.1 600.7,669.6 C604.0,668.1 607.0,675.9 609.3,677.3 C611.6,678.7 612.2,676.9 614.5,678.2 C616.8,679.5 619.7,684.5 623.0,685.1 C626.3,685.7 630.3,681.5 634.2,681.6 C638.1,681.8 642.8,684.0 646.3,686.0 C649.8,688.0 652.4,698.0 655.5,693.7 C658.6,689.4 662.3,663.5 664.9,660.2 C667.5,656.9 668.2,670.3 670.9,673.9 C673.6,677.5 677.6,678.7 681.3,681.6 C685.0,684.5 690.1,689.8 693.3,691.1 C696.4,692.4 698.5,689.4 700.2,689.4 C701.9,689.4 701.3,687.1 703.6,691.1 C705.9,695.1 710.8,710.4 713.9,713.4 C717.0,716.4 719.4,710.7 722.5,709.1 C725.6,707.5 727.6,707.0 732.8,704.0 C737.9,701.0 748.8,693.7 753.4,691.1 C758.0,688.5 757.1,691.1 760.3,688.5 C763.4,685.9 768.6,677.0 772.3,675.6 C776.0,674.2 780.1,679.3 782.6,679.9 C785.1,680.5 784.1,676.8 787.0,679.1 C789.9,681.4 796.1,691.0 799.8,693.7 C803.5,696.4 806.6,693.4 809.3,695.4 C812.0,697.4 813.8,704.6 816.2,705.7 C818.6,706.9 821.8,703.6 823.9,702.3 C826.0,701.0 826.7,699.6 829.1,698.0 C831.5,696.4 836.9,693.7 838.5,692.8" fill="none" stroke="#70767e" stroke-width="2.6" stroke-linejoin="round"/>
<rect x="1112" y="673" width="136" height="1.2" fill="#d8c838"/>
<rect x="1112" y="694.6" width="136" height="1.2" fill="#d8c838"/>
<path fill-rule="evenodd" fill="url(#gold)" d="M1138.5,626 A45.5,45 0 1,0 1229.5,626 A45.5,45 0 1,0 1138.5,626 Z M1149.6,626.2 A35,40.6 0 1,1 1219.6,626.2 A35,40.6 0 1,1 1149.6,626.2 Z"/>
<g fill="url(#gold2)" style="font-family:'Liberation Serif',serif">
<path fill-rule="evenodd" d="M1153.3,633.5 C1153.3,627 1158,623.2 1164.5,623.2 C1169,623.2 1173.5,624.5 1174,626 L1174,641.5 C1171,643 1167,643.6 1163,643.6 C1157,643.6 1153.3,639.5 1153.3,633.5 Z M1158.6,633.8 C1158.6,629.5 1161,627.2 1164.8,627.2 C1168,627.2 1170.8,628.5 1171.5,630 L1171.5,638 C1170,639.8 1167.5,640.6 1165,640.6 C1161,640.6 1158.6,637.8 1158.6,633.8 Z"/>
<path d="M1157,617.5 C1158,612.5 1162,610.6 1167,610.5 C1171,610.5 1174,611.5 1175,613" fill="none" stroke="url(#gold2)" stroke-width="1.8"/>
<circle cx="1157" cy="617.8" r="2.9"/>
<text x="0" y="0" font-size="51" style="font-family:'Liberation Serif',serif" transform="translate(1171.8,643.2) scale(0.8,1)">K</text>
<text x="0" y="0" font-size="51" style="font-family:'Liberation Serif',serif" transform="translate(1189.2,642.8)">S</text>
</g>
<text x="1148.2" y="688.8" font-size="14.3" fill="#b8ac3c" style="font-family:'Liberation Serif',serif">O</text>
<text x="1161.2" y="688.8" font-size="14.3" fill="#b8ac3c" style="font-family:'Liberation Serif',serif">A</text>
<text x="1174.6" y="688.8" font-size="14.3" fill="#b8ac3c" style="font-family:'Liberation Serif',serif">K</text>
<text x="1186.5" y="688.8" font-size="14.3" fill="#b8ac3c" style="font-family:'Liberation Serif',serif">S</text>
<text x="1199.8" y="688.8" font-size="14.3" fill="#b8ac3c" style="font-family:'Liberation Serif',serif">F</text>
<text x="1208.6" y="688.8" font-size="14.3" fill="#b8ac3c" style="font-family:'Liberation Serif',serif">X</text>
</svg></div></body></html>
